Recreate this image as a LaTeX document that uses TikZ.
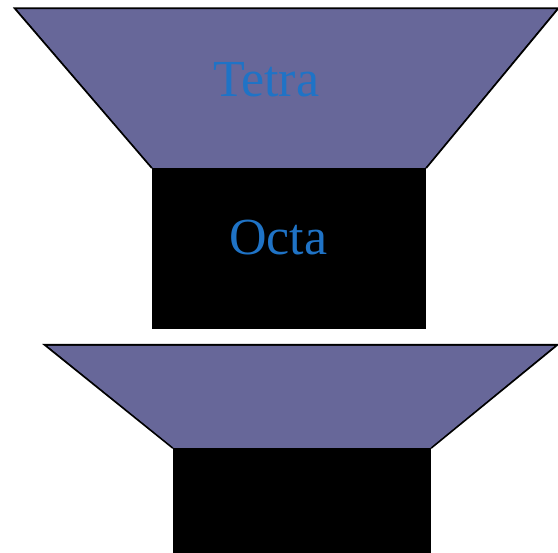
\documentclass[tikz,border=0pt]{standalone}
\usepackage{fontspec}
\setmainfont{Liberation Serif}
\definecolor{trapfill}{RGB}{103,103,153}
\definecolor{labelblue}{RGB}{31,115,198}
\begin{document}
\begin{tikzpicture}[x=1pt,y=-1pt,
  trap/.style={fill=trapfill,draw=black,line width=2pt,line join=miter},
  block/.style={fill=black,draw=none},
  lbl/.style={text=labelblue,font=\fontsize{52}{60}\selectfont,inner sep=0pt,anchor=base west}]
\useasboundingbox[fill=white] (0,0) rectangle (558,553);
% top trapezoid + block
\fill[block] (152,168) rectangle (426,329.5);
\draw[trap] (152,168) -- (15,8.5) -- (558,8.5) -- (426,168);
\fill[trapfill] (153.2,168) -- (17.2,9.5) -- (555.8,9.5) -- (424.8,168) -- cycle;
% bottom trapezoid + block
\fill[block] (173,448) rectangle (431,553);
\draw[trap] (173,448) -- (45,345) -- (557,345) -- (431,448);
\fill[trapfill] (174.2,448) -- (47.8,346) -- (554.2,346) -- (429.8,448) -- cycle;
\node[lbl] (tetra) at (213,97) {Tetra};
\node[lbl] (octa) at (229,255) {Octa};
\end{tikzpicture}
\end{document}
